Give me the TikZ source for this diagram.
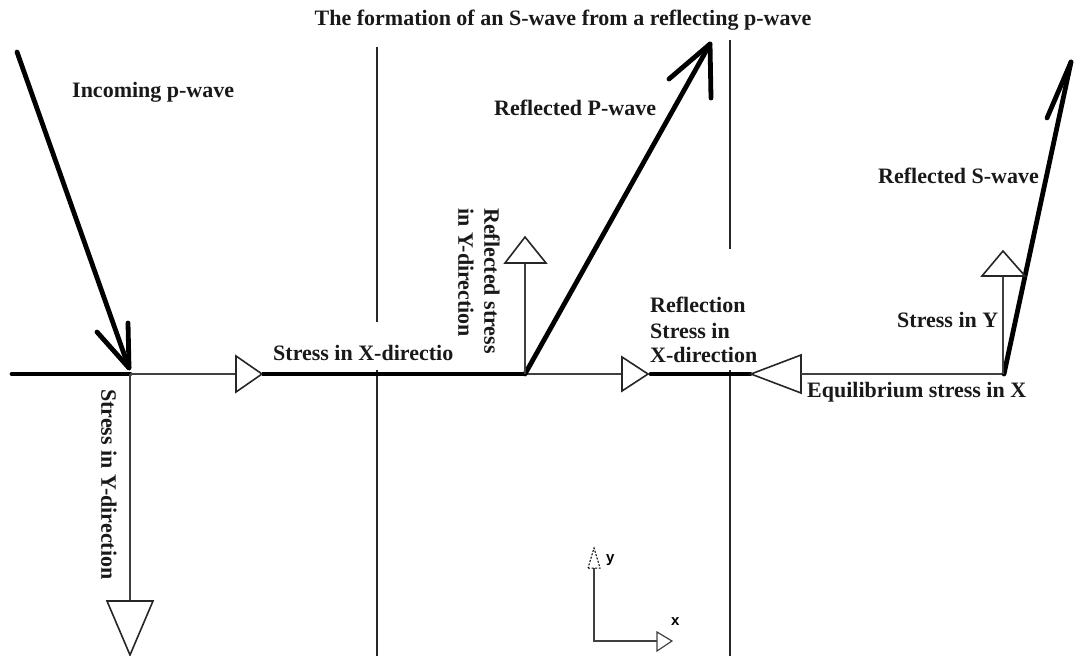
\documentclass[tikz,border=0pt]{standalone}
\usepackage{fontspec}
\usetikzlibrary{calc}
\setmainfont{Liberation Serif}
\newfontfamily\axfont{Liberation Sans}
\begin{document}
\begin{tikzpicture}[x=1pt,y=-1pt,
  thin line/.style={line width=1.4pt, draw=black!75},
  guide/.style={line width=1.1pt, draw=black!85},
  thick wave/.style={line width=4.8pt, line cap=round, line join=round},
  tri/.style={line width=1.6pt, draw=black!85, line join=miter},
  lbl/.style={font=\fontsize{22}{26}\selectfont\bfseries, inner sep=0pt, text=black!90},
  axlbl/.style={font=\axfont\fontsize{15}{17}\selectfont\bfseries, inner sep=0pt}]
\useasboundingbox (0,0) rectangle (1074,656);

% title
\node[lbl, anchor=base] (title) at (563,25) {The formation of an S-wave from a reflecting p-wave};

% vertical guide lines
\coordinate (g1t) at (377,47); \coordinate (g1m) at (377,322);
\coordinate (g1n) at (377,370); \coordinate (g1b) at (377,656);
\coordinate (g2t) at (730,40); \coordinate (g2m) at (730,249);
\coordinate (g3t) at (730,370); \coordinate (g3b) at (730,656);
\draw[guide] (g1t) -- (g1m);
\draw[guide] (g1n) -- (g1b);
\draw[guide] (g2t) -- (g2m);
\draw[guide] (g3t) -- (g3b);

% key points on the boundary
\coordinate (L) at (12,374);
\coordinate (A) at (130,374);
\coordinate (T1b) at (236,374);
\coordinate (T1t) at (262,374);
\coordinate (B) at (525,374);
\coordinate (T2b) at (622,374);
\coordinate (T2t) at (648,374);
\coordinate (C) at (750,374);
\coordinate (T3t) at (751,374);
\coordinate (T3b) at (801,374);
\coordinate (D) at (1004,374);

% baseline
\draw[thick wave] (L) -- (A);
\draw[thin line] (A) -- (T1b);
\draw[tri] (T1b) -- ++(0,-18) -- (T1t) -- ($(T1b)+(0,18)$) -- cycle;
\draw[thick wave, line cap=butt] (T1t) -- (B);
\draw[thin line] (B) -- (T2b);
\draw[tri] (T2b) -- ++(0,-17) -- (T2t) -- ($(T2b)+(0,17)$) -- cycle;
\draw[thick wave] (651,374) -- (C);
\draw[tri] (T3b) -- ++(0,-19) -- (T3t) -- ($(T3b)+(0,19)$) -- cycle;
\draw[thin line] (T3b) -- (D);

% incoming p-wave
\coordinate (inS) at (17,52);
\coordinate (inT) at (129,368);
\draw[thick wave] (inS) -- (inT);
\draw[thick wave] (97,332) -- (inT) -- (128,323);

% stress in Y-direction (down)
\coordinate (Yd) at (130,601);
\draw[thin line] (A) -- (Yd);
\draw[tri] (107,601) -- (153,601) -- (130,655) -- cycle;

% reflected P-wave
\coordinate (rpT) at (710,44);
\draw[thick wave] (B) -- (rpT);
\draw[thick wave] (669,79) -- (rpT) -- (711,98);

% reflected stress in Y (up)
\coordinate (rsY) at (525,263);
\draw[thin line] (B) -- (rsY);
\draw[tri] (505,263) -- (546,263) -- (525,237) -- cycle;

% reflected S-wave
\coordinate (rsT) at (1071,62);
\draw[thick wave] (D) -- (rsT);
\draw[thick wave] (1047,118) -- (rsT);

% stress in Y (up, right)
\coordinate (sY) at (1003,276);
\draw[thin line] (1003,374) -- (sY);
\draw[tri] (982,276) -- (1025,276) -- (1003,251) -- cycle;

% labels
\node[lbl, anchor=base west] (inc) at (72,97) {Incoming p-wave};
\node[lbl, anchor=base west] (rP) at (494,115) {Reflected P-wave};
\node[lbl, anchor=base west] (rS) at (878,183) {Reflected S-wave};
\node[lbl, anchor=base west] (sinY) at (897,327) {Stress in Y};
\node[lbl, anchor=base west] (sX) at (273,360) {Stress in X-directio};
\node[lbl, anchor=base west] (eq) at (807,397) {Equilibrium stress in X};
\node[lbl, anchor=base west] (r1) at (650,312) {Reflection};
\node[lbl, anchor=base west] (r2) at (650,338) {Stress in};
\node[lbl, anchor=base west] (r3) at (650,362) {X-direction};
\node[lbl, rotate=-90, anchor=west, align=left] (rsYl) at (479,208) {Reflected stress\\in Y-direction};
\node[lbl, rotate=-90, anchor=west] (sYd) at (109,389) {Stress in Y-direction};

% axes
\coordinate (O) at (594,641);
\coordinate (Oy) at (594,568);
\coordinate (Ox) at (657,641);
\draw[line width=1.2pt, draw=black!75] (Oy) -- (O) -- (Ox);
\draw[line width=1pt, dashed, dash pattern=on 2pt off 1.5pt] (588,568) -- (600,568) -- (594,548) -- cycle;
\draw[line width=1.2pt, draw=black!75] (657,632) -- (672,641) -- (657,651) -- cycle;
\node[axlbl, anchor=west] (ylab) at (606,560) {y};
\node[axlbl, anchor=west] (xlab) at (671,622) {x};
\end{tikzpicture}
\end{document}
